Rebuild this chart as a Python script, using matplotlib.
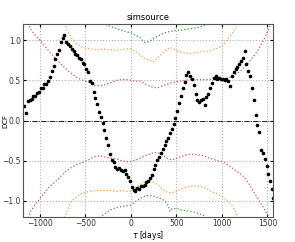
import numpy as np
import matplotlib
matplotlib.use('Agg')
import matplotlib.pyplot as plt

# DCF points (lag in days, value)
lags = [-1170, -1150, -1130, -1110, -1090, -1070, -1050, -1030, -1010, -990,
        -970, -950, -930, -910, -890, -870, -850, -830, -810, -790,
        -770, -750, -730, -710, -690, -670, -650, -630, -610, -590,
        -570, -550, -530, -510, -490, -470, -450, -430, -410, -390,
        -370, -350, -330, -310, -290, -270, -250, -230, -210, -190,
        -170, -150, -130, -110, -90, -70, -50, -30, -10, 10,
        30, 50, 70, 90, 110, 130, 150, 170, 190, 210,
        230, 250, 270, 290, 310, 330, 350, 370, 390, 410,
        430, 450, 470, 490, 510, 530, 550, 570, 590, 610,
        630, 650, 670, 690, 710, 730, 750, 770, 790, 810,
        830, 850, 870, 890, 910, 930, 950, 970, 990, 1010,
        1030, 1050, 1070, 1090, 1110, 1130, 1150, 1170, 1190, 1210,
        1230, 1250, 1270, 1290, 1310, 1330, 1350, 1370, 1390, 1410,
        1430, 1450, 1470, 1490, 1510, 1530, 1550, 1560]
dcf = [0.18, 0.09, 0.24, 0.25, 0.27, 0.30, 0.31, 0.34, 0.36, 0.40,
       0.41, 0.45, 0.46, 0.49, 0.54, 0.62, 0.68, 0.76, 0.83, 0.88,
       0.97, 1.02, 1.06, 0.97, 0.95, 0.93, 0.89, 0.86, 0.83, 0.81,
       0.78, 0.77, 0.72, 0.70, 0.64, 0.60, 0.49, 0.47, 0.36, 0.28,
       0.20, 0.11, 0.04, -0.03, -0.12, -0.22, -0.30, -0.41, -0.49, -0.51,
       -0.58, -0.60, -0.59, -0.61, -0.63, -0.62, -0.66, -0.70, -0.75, -0.83,
       -0.86, -0.88, -0.84, -0.85, -0.82, -0.81, -0.80, -0.77, -0.75, -0.72,
       -0.68, -0.60, -0.55, -0.49, -0.45, -0.40, -0.35, -0.31, -0.26, -0.22,
       -0.16, -0.10, -0.04, 0.03, 0.12, 0.22, 0.31, 0.40, 0.48, 0.57,
       0.60, 0.55, 0.52, 0.44, 0.33, 0.26, 0.23, 0.25, 0.27, 0.19,
       0.29, 0.33, 0.41, 0.47, 0.53, 0.55, 0.52, 0.53, 0.51, 0.52,
       0.50, 0.51, 0.49, 0.43, 0.55, 0.60, 0.64, 0.67, 0.70, 0.74,
       0.78, 0.86, 0.70, 0.62, 0.55, 0.40, 0.25, 0.07, -0.06, -0.14,
       -0.37, -0.40, -0.48, -0.57, -0.66, -0.75, -0.85, -0.96]

# significance levels
red_lags = [-1130, -1100, -1050, -1000, -950, -900, -850, -800, -750, -700,
            -650, -600, -550, -500, -450, -400, -350, -300, -250, -200,
            -150, -100, -50, 0, 50, 100, 150, 200, 250, 300,
            350, 400, 450, 500, 550, 600, 650, 700, 750, 800,
            850, 900, 950, 1000, 1050, 1100, 1150, 1200, 1250, 1300,
            1350, 1400, 1450, 1500, 1540]
red_up = [1.21, 1.13, 1.06, 1.0, 0.93, 0.86, 0.80, 0.74, 0.68, 0.63,
          0.58, 0.54, 0.51, 0.49, 0.47, 0.44, 0.43, 0.44, 0.46, 0.48,
          0.50, 0.51, 0.51, 0.50, 0.49, 0.49, 0.46, 0.43, 0.41, 0.41,
          0.43, 0.45, 0.47, 0.48, 0.49, 0.50, 0.51, 0.51, 0.51, 0.51,
          0.51, 0.51, 0.51, 0.51, 0.52, 0.54, 0.57, 0.61, 0.67, 0.73,
          0.80, 0.88, 0.98, 1.10, 1.21]
red_lo = [-1.21, -1.13, -1.04, -0.97, -0.90, -0.83, -0.78, -0.73, -0.67, -0.62,
          -0.58, -0.55, -0.53, -0.51, -0.48, -0.45, -0.44, -0.45, -0.46, -0.47,
          -0.48, -0.50, -0.51, -0.51, -0.49, -0.47, -0.44, -0.42, -0.40, -0.40,
          -0.43, -0.47, -0.49, -0.47, -0.45, -0.43, -0.42, -0.42, -0.43, -0.44,
          -0.46, -0.48, -0.50, -0.51, -0.54, -0.58, -0.62, -0.66, -0.71, -0.79,
          -0.89, -0.98, -1.07, -1.17, -1.23]

orange_lags = [-730, -700, -650, -600, -550, -500, -450, -400, -350, -300,
               -250, -200, -150, -100, -50, 0, 50, 100, 150, 200,
               250, 300, 350, 400, 450, 500, 550, 600, 650, 700,
               750, 800, 850, 900, 950, 1000, 1050, 1100, 1150, 1180]
orange_up = [1.21, 1.12, 1.02, 0.96, 0.92, 0.90, 0.89, 0.88, 0.88, 0.89,
             0.88, 0.88, 0.87, 0.88, 0.89, 0.89, 0.86, 0.82, 0.77, 0.75,
             0.73, 0.78, 0.84, 0.89, 0.90, 0.87, 0.85, 0.84, 0.83, 0.84,
             0.85, 0.86, 0.86, 0.88, 0.90, 0.92, 0.99, 1.06, 1.14, 1.21]
orange_lo = [-1.21, -1.12, -1.0, -0.95, -0.91, -0.89, -0.88, -0.87, -0.87, -0.87,
             -0.87, -0.87, -0.88, -0.87, -0.88, -0.88, -0.84, -0.80, -0.76, -0.75,
             -0.77, -0.80, -0.86, -0.89, -0.90, -0.88, -0.85, -0.83, -0.82, -0.81,
             -0.82, -0.83, -0.86, -0.89, -0.91, -0.94, -0.99, -1.04, -1.13, -1.21]

green_up_lags = [-310, -250, -200, -150, -100, -50, 0, 50, 100, 150,
                 200, 250, 300, 350, 400, 450, 500, 550, 600, 650,
                 700, 750, 800, 850]
green_up = [1.21, 1.18, 1.16, 1.14, 1.12, 1.10, 1.09, 1.06, 1.03, 0.97,
            0.98, 1.02, 1.05, 1.08, 1.10, 1.11, 1.12, 1.12, 1.13, 1.14,
            1.15, 1.16, 1.18, 1.21]
green_lo_lags = [-340, -300, -250, -200, -150, -100, -50, 0, 50, 100,
                 150, 200, 250, 300, 350, 400, 430, 450, 500, 550,
                 600, 650, 700, 750, 800, 830]
green_lo = [-1.21, -1.17, -1.13, -1.10, -1.08, -1.07, -1.06, -1.05, -1.01, -0.97,
            -0.94, -0.93, -0.94, -0.96, -0.98, -1.03, -1.13, -1.10, -1.09, -1.11,
            -1.12, -1.13, -1.14, -1.16, -1.18, -1.21]

fig = plt.figure(figsize=(2.95, 2.42), dpi=100)
ax = fig.add_axes([0.078, 0.103, 0.847, 0.798])

red = '#cc5555'
orange = '#ff9a40'
green = '#3f9a3f'
ax.plot(red_lags, red_up, ':', color=red, lw=0.9)
ax.plot(red_lags, red_lo, ':', color=red, lw=0.9)
ax.plot(orange_lags, orange_up, ':', color=orange, lw=0.9)
ax.plot(orange_lags, orange_lo, ':', color=orange, lw=0.9)
ax.plot(green_up_lags, green_up, ':', color=green, lw=0.9)
ax.plot(green_lo_lags, green_lo, ':', color=green, lw=0.9)

ax.axhline(0, color='k', ls='-.', lw=0.6)
ax.plot(lags, dcf, 'k.', ms=3.2)

ax.set_xlim(-1185, 1560)
ax.set_ylim(-1.2, 1.2)
ax.set_xticks([-1000, -500, 0, 500, 1000, 1500])
ax.set_yticks([-1.0, -0.5, 0.0, 0.5, 1.0])
ax.grid(True, ls=':', color='#b0b0b0', lw=0.8)
ax.tick_params(labelsize=5.5, labelcolor='#333333', direction='in',
               length=2.5, pad=1.5, top=True, right=True)
for s in ax.spines.values():
    s.set_color('#555555')
ax.set_title('simsource', fontsize=6, pad=2.5)
ax.set_xlabel(r'$\tau$ [days]', fontsize=5.5, labelpad=0.5)
ax.set_ylabel('DCF', fontsize=5)
ax.yaxis.set_label_coords(-0.058, 0.5)

fig.savefig('out.png', dpi=100)
